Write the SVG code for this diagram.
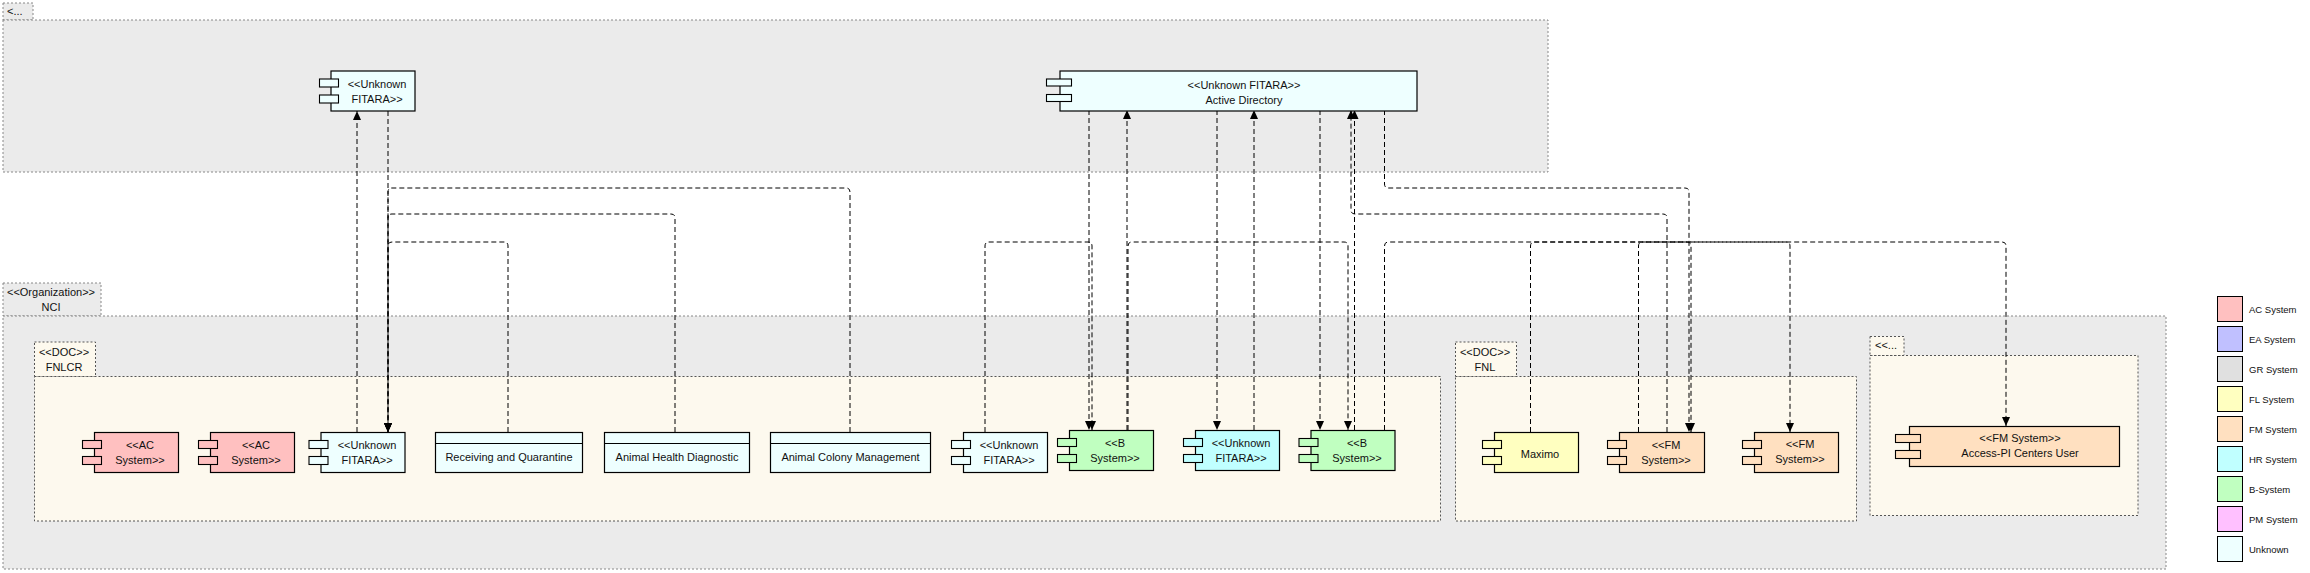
<svg xmlns="http://www.w3.org/2000/svg" width="2310" height="573" viewBox="0 0 2310 573">
<defs>
<style>
text{font-family:"Liberation Sans",Arial,sans-serif;font-size:11px;fill:#111;}
.c{text-anchor:middle;}
.pkgG{fill:#EBEBEB;stroke:#888;stroke-width:1;stroke-dasharray:2,2;}
.pkgY{fill:#FDF9EE;stroke:#555;stroke-width:1;stroke-dasharray:2,2;}
.body{stroke:#000;stroke-width:1.2;}
.ico{stroke:#000;stroke-width:1.1;}
.ac{fill:#FFC0C0;} .ea{fill:#C0C0FF;} .gr{fill:#E0E0E0;} .fl{fill:#FFFFC0;} .fm{fill:#FFE0C0;}
.hr{fill:#C0FFFF;} .bs{fill:#C0FFC0;} .pm{fill:#FFC0FF;} .un{fill:#EEFFFF;}
.conn path{fill:none;stroke:#000;stroke-width:1;stroke-dasharray:5,3;}
.arr{marker-end:url(#ah);}
.lg rect{stroke:#000;stroke-width:1;}
.lg text{font-size:9.5px;}
</style>
<marker id="ah" markerUnits="userSpaceOnUse" markerWidth="10" markerHeight="10" refX="9" refY="4" orient="auto">
<path d="M0,0 L9,4 L0,8 z" fill="#000"/>
</marker>
</defs>
<rect width="2310" height="573" fill="#fff"/>

<g id="pkg-top">
<rect class="pkgG" x="3" y="3" width="30" height="17"/>
<rect class="pkgG" x="3" y="20" width="1545" height="152"/>
<text x="7" y="15">&lt;...</text>
</g>

<g id="pkg-nci">
<rect class="pkgG" x="3" y="283" width="98" height="33"/>
<rect class="pkgG" x="3" y="316" width="2163" height="253"/>
<text class="c" x="51" y="296">&lt;&lt;Organization&gt;&gt;</text>
<text class="c" x="51" y="311">NCI</text>
</g>
<g id="pkg-fnlcr">
<rect class="pkgY" x="34.5" y="342" width="61" height="34.5"/>
<rect class="pkgY" x="34.5" y="376.5" width="1406" height="144.5"/>
<text class="c" x="64" y="356">&lt;&lt;DOC&gt;&gt;</text>
<text class="c" x="64" y="371">FNLCR</text>
</g>
<g id="pkg-fnl">
<rect class="pkgY" x="1455.5" y="342" width="61" height="34.5"/>
<rect class="pkgY" x="1455.5" y="376.5" width="401" height="144.5"/>
<text class="c" x="1485" y="356">&lt;&lt;DOC&gt;&gt;</text>
<text class="c" x="1485" y="371">FNL</text>
</g>
<g id="pkg-third">
<rect class="pkgY" x="1870" y="336.5" width="34" height="19"/>
<rect class="pkgY" x="1870" y="355.5" width="268" height="160"/>
<text x="1875" y="349">&lt;&lt;...</text>
</g>

<g id="connectors" class="conn">
<path class="arr" d="M357,432 V111"/>
<path class="arr" d="M388,111 V432"/>
<path class="arr" d="M508,432 V246 Q508,242 504,242 H392 Q388,242 388,246 V432"/>
<path class="arr" d="M675,432 V218 Q675,214 671,214 H392 Q388,214 388,218 V432"/>
<path class="arr" d="M850,432 V192 Q850,188 846,188 H392 Q388,188 388,192 V432"/>
<path class="arr" d="M985,432 V246 Q985,242 989,242 H1088 Q1092,242 1092,246 V430"/>
<path class="arr" d="M1089,110 V430"/>
<path class="arr" d="M1127,430 V110"/>
<path class="arr" d="M1217,110 V430"/>
<path class="arr" d="M1254,430 V110"/>
<path class="arr" d="M1320,110 V430"/>
<path class="arr" d="M1667,432 V218 Q1667,214 1663,214 H1355 Q1351,214 1351,210 V110"/>
<path class="arr" d="M1354.5,430 V110"/>
<path class="arr" d="M1384.5,110 V184 Q1384.5,188 1388.5,188 H1685 Q1689,188 1689,192 V432"/>
<path class="arr" d="M1128,430 V246 Q1128,242 1132,242 H1344 Q1348,242 1348,246 V430"/>
<path class="arr" d="M1384.5,430 V246 Q1384.5,242 1388.5,242 H1786 Q1790,242 1790,246 V432"/>
<path class="arr" d="M1530.5,432 V246 Q1530.5,242 1534.5,242 H1687 Q1691,242 1691,246 V432"/>
<path class="arr" d="M1638.5,432 V246 Q1638.5,242 1642.5,242 H2002 Q2006,242 2006,246 V426"/>
</g>

<g id="n-top-unknown" class="un">
<rect class="body" x="331" y="71" width="84" height="40"/>
<rect class="ico" x="319.5" y="79" width="19" height="8"/>
<rect class="ico" x="319.5" y="95" width="19" height="8"/>
<text class="c" x="377" y="88">&lt;&lt;Unknown</text>
<text class="c" x="377" y="103">FITARA&gt;&gt;</text>
</g>
<g id="n-active-directory" class="un">
<rect class="body" x="1060" y="71" width="357" height="40"/>
<rect class="ico" x="1046.5" y="79" width="25" height="7"/>
<rect class="ico" x="1046.5" y="94.5" width="25" height="7"/>
<text class="c" x="1244" y="89">&lt;&lt;Unknown FITARA&gt;&gt;</text>
<text class="c" x="1244" y="104">Active Directory</text>
</g>

<g id="n-ac1" class="ac">
<rect class="body" x="94.5" y="432.5" width="84" height="40"/>
<rect class="ico" x="82.5" y="440.5" width="19" height="8"/>
<rect class="ico" x="82.5" y="456.5" width="19" height="8"/>
<text class="c" x="140" y="449">&lt;&lt;AC</text>
<text class="c" x="140" y="464">System&gt;&gt;</text>
</g>
<g id="n-ac2" class="ac">
<rect class="body" x="210.5" y="432.5" width="84" height="40"/>
<rect class="ico" x="198.5" y="440.5" width="19" height="8"/>
<rect class="ico" x="198.5" y="456.5" width="19" height="8"/>
<text class="c" x="256" y="449">&lt;&lt;AC</text>
<text class="c" x="256" y="464">System&gt;&gt;</text>
</g>
<g id="n-fnlcr-unknown1" class="un">
<rect class="body" x="321" y="432.5" width="84" height="40"/>
<rect class="ico" x="309" y="440.5" width="19" height="8"/>
<rect class="ico" x="309" y="456.5" width="19" height="8"/>
<text class="c" x="367" y="449">&lt;&lt;Unknown</text>
<text class="c" x="367" y="464">FITARA&gt;&gt;</text>
</g>
<g id="n-receiving" class="un">
<rect class="body" x="435.5" y="432.5" width="147" height="40"/>
<line x1="435.5" y1="443.5" x2="582.5" y2="443.5" stroke="#000" stroke-width="1.2"/>
<text class="c" x="509" y="461">Receiving and Quarantine</text>
</g>
<g id="n-animal-health" class="un">
<rect class="body" x="604.5" y="432.5" width="145" height="40"/>
<line x1="604.5" y1="443.5" x2="749.5" y2="443.5" stroke="#000" stroke-width="1.2"/>
<text class="c" x="677" y="461">Animal Health Diagnostic</text>
</g>
<g id="n-animal-colony" class="un">
<rect class="body" x="770.5" y="432.5" width="160" height="40"/>
<line x1="770.5" y1="443.5" x2="930.5" y2="443.5" stroke="#000" stroke-width="1.2"/>
<text class="c" x="850.5" y="461">Animal Colony Management</text>
</g>
<g id="n-fnlcr-unknown2" class="un">
<rect class="body" x="963.5" y="432.5" width="84" height="40"/>
<rect class="ico" x="951.5" y="440.5" width="19" height="8"/>
<rect class="ico" x="951.5" y="456.5" width="19" height="8"/>
<text class="c" x="1009" y="449">&lt;&lt;Unknown</text>
<text class="c" x="1009" y="464">FITARA&gt;&gt;</text>
</g>
<g id="n-bsys1" class="bs">
<rect class="body" x="1069.5" y="430.5" width="84" height="40"/>
<rect class="ico" x="1057.5" y="438.5" width="19" height="8"/>
<rect class="ico" x="1057.5" y="454.5" width="19" height="8"/>
<text class="c" x="1115" y="447">&lt;&lt;B</text>
<text class="c" x="1115" y="462">System&gt;&gt;</text>
</g>
<g id="n-hr-unknown" class="hr">
<rect class="body" x="1195.5" y="430.5" width="84" height="40"/>
<rect class="ico" x="1183.5" y="438.5" width="19" height="8"/>
<rect class="ico" x="1183.5" y="454.5" width="19" height="8"/>
<text class="c" x="1241" y="447">&lt;&lt;Unknown</text>
<text class="c" x="1241" y="462">FITARA&gt;&gt;</text>
</g>
<g id="n-bsys2" class="bs">
<rect class="body" x="1311" y="430.5" width="84" height="40"/>
<rect class="ico" x="1299" y="438.5" width="19" height="8"/>
<rect class="ico" x="1299" y="454.5" width="19" height="8"/>
<text class="c" x="1357" y="447">&lt;&lt;B</text>
<text class="c" x="1357" y="462">System&gt;&gt;</text>
</g>
<g id="n-maximo" class="fl">
<rect class="body" x="1494.5" y="432.5" width="84" height="40"/>
<rect class="ico" x="1482.5" y="440.5" width="19" height="8"/>
<rect class="ico" x="1482.5" y="456.5" width="19" height="8"/>
<text class="c" x="1540" y="458">Maximo</text>
</g>
<g id="n-fm1" class="fm">
<rect class="body" x="1619.5" y="432.5" width="85" height="40"/>
<rect class="ico" x="1607.5" y="440.5" width="19" height="8"/>
<rect class="ico" x="1607.5" y="456.5" width="19" height="8"/>
<text class="c" x="1666" y="449">&lt;&lt;FM</text>
<text class="c" x="1666" y="464">System&gt;&gt;</text>
</g>
<g id="n-fm2" class="fm">
<rect class="body" x="1754.5" y="432.5" width="84" height="40"/>
<rect class="ico" x="1742.5" y="440.5" width="19" height="8"/>
<rect class="ico" x="1742.5" y="456.5" width="19" height="8"/>
<text class="c" x="1800" y="448">&lt;&lt;FM</text>
<text class="c" x="1800" y="463">System&gt;&gt;</text>
</g>
<g id="n-access-pi" class="fm">
<rect class="body" x="1909.5" y="426.5" width="210" height="40"/>
<rect class="ico" x="1895.5" y="434.5" width="25" height="8"/>
<rect class="ico" x="1895.5" y="450.5" width="25" height="8"/>
<text class="c" x="2020" y="442">&lt;&lt;FM System&gt;&gt;</text>
<text class="c" x="2020" y="457">Access-PI Centers User</text>
</g>

<g id="legend" class="lg">
<rect class="ac" x="2217.5" y="296.5" width="25" height="25"/><text x="2249" y="313">AC System</text>
<rect class="ea" x="2217.5" y="326.5" width="25" height="25"/><text x="2249" y="343">EA System</text>
<rect class="gr" x="2217.5" y="356.5" width="25" height="25"/><text x="2249" y="373">GR System</text>
<rect class="fl" x="2217.5" y="386.5" width="25" height="25"/><text x="2249" y="403">FL System</text>
<rect class="fm" x="2217.5" y="416.5" width="25" height="25"/><text x="2249" y="433">FM System</text>
<rect class="hr" x="2217.5" y="446.5" width="25" height="25"/><text x="2249" y="463">HR System</text>
<rect class="bs" x="2217.5" y="476.5" width="25" height="25"/><text x="2249" y="493">B-System</text>
<rect class="pm" x="2217.5" y="506.5" width="25" height="25"/><text x="2249" y="523">PM System</text>
<rect class="un" x="2217.5" y="536.5" width="25" height="25"/><text x="2249" y="553">Unknown</text>
</g>
</svg>
